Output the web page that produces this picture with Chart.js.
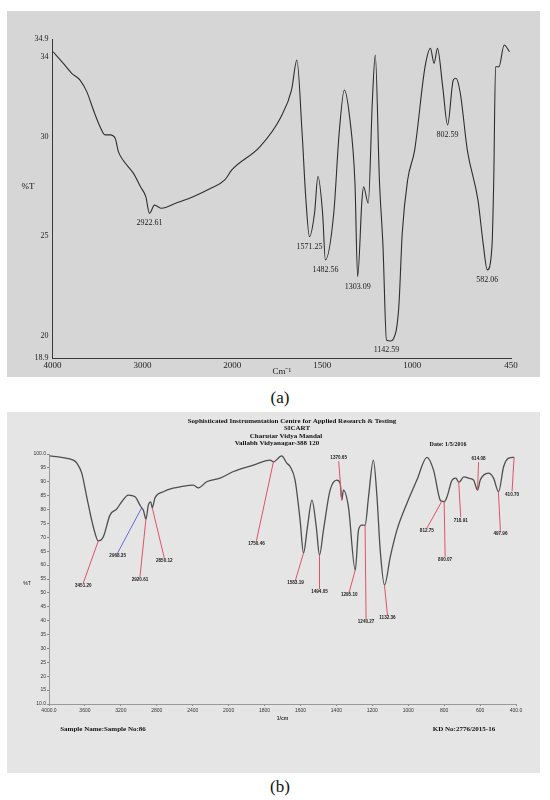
<!DOCTYPE html>
<html><head><meta charset="utf-8">
<script src="https://cdn.jsdelivr.net/npm/chart.js@4.4.1/dist/chart.umd.min.js"></script>
<style>
html,body{margin:0;padding:0;background:#fff;}
#page{position:relative;width:550px;height:800px;overflow:hidden;background:#fff;}
.box{position:absolute;}
#boxA{left:7px;top:11px;width:533px;height:366px;background:#d6d6d6;}
#boxB{left:7px;top:412px;width:533px;height:361px;background:#e5e5e5;}
.t{position:absolute;white-space:nowrap;transform:translate(-50%,-50%);color:#111;line-height:1;}
.serif{font-family:"Liberation Serif","DejaVu Serif",serif;}
.hb{font-family:"Liberation Serif",serif;font-weight:bold;font-size:7px;}
canvas{display:block;}
</style>
</head><body>
<div id="page">
  <div id="boxA" class="box"><canvas id="cA" width="533" height="366"></canvas></div>
  <div class="t serif" style="left:28px;top:186px;font-size:9px;">%T</div>
  <div class="t serif" style="left:280px;top:397px;font-size:17px;">(a)</div>

  <div id="boxB" class="box"><canvas id="cB" width="533" height="361"></canvas></div>
  <div class="t hb" style="left:292px;top:421px;">Sophisticated Instrumentation Centre for Applied Research &amp; Testing</div>
  <div class="t hb" style="left:297px;top:428px;">SICART</div>
  <div class="t hb" style="left:286px;top:435.5px;">Charutar Vidya Mandal</div>
  <div class="t hb" style="left:277px;top:443px;">Vallabh Vidyanagar-388 120</div>
  <div class="t hb" style="left:448px;top:444px;font-size:6px;">Date: 1/5/2016</div>
  <div class="t" style="left:27px;top:583px;font-family:'Liberation Sans',sans-serif;font-size:5px;">%T</div>
  <div class="t hb" style="left:103px;top:729px;">Sample Name:Sample No:86</div>
  <div class="t hb" style="left:464px;top:729px;">KD No:2776/2015-16</div>
  <div class="t serif" style="left:280px;top:786px;font-size:17px;">(b)</div>
</div>
<script>
// ---------- Panel (a) data ----------
const wnA = [3995,3881,3787,3695,3620,3546,3472,3416,3360,3304,3268,3217,3100,3022,2963,2922.61,2866,2788,2631,2436,2240,2084,2006,1846,1729,1671,1641,1612,1592,1571.25,1543,1524,1498,1482.56,1436,1406,1377,1348,1318,1303.09,1279,1270,1244,1221,1205,1182,1162,1142.59,1120,1104,1074,1055,1025,986,928,898,878,859,830,802.59,771,756,732,693,634,605,582.06,556,546,536,517,488,458];
const tA  = [34.26,33.68,33.18,32.84,32.26,31.34,30.5,30.09,30.09,29.92,29.25,28.83,28.16,27.49,26.99,26.16,26.57,26.41,26.66,26.99,27.41,27.83,28.33,29.5,31.0,32.34,33.85,30.17,26.99,24.99,26.16,28.0,26.16,23.82,26.16,30.17,32.34,31.0,27.66,22.98,26.83,27.49,26.66,31.84,34.1,27.83,24.48,19.8,19.75,19.85,21.47,25.16,27.83,29.33,33.51,34.43,33.68,34.43,32.51,30.59,32.84,32.93,32.18,29.33,26.83,24.65,23.32,24.48,27.83,33.51,33.51,34.6,34.26];
const peakWnA = [2922.61,1571.25,1482.56,1303.09,1142.59,802.59,582.06];
const peakTA  = [26.16,24.99,23.82,22.98,19.8,30.59,23.32];
const xTicksA = [4000,3000,2000,1500,1000,450];
const yTicksA = [18.9,20,25,30,34,34.9];

// ---------- Panel (b) data ----------
const wnB = [3989,3860,3729,3692,3636,3580,3507,3451,3395,3321,3246,3190,3117,3042,2987,2968,2950,2920,2894,2867,2850,2820,2727,2616,2541,2393,2337,2244,2095,1973,1862,1769,1750,1705,1676,1657,1630,1602,1583,1561,1536,1512,1494,1472,1435,1397,1379,1370,1361,1333,1295,1277,1258,1240,1221,1194,1174,1156,1132,1100,1063,1007,952,896,859,822,812,800,784,756,735,718,690,660,636,614,599,553,525,497,469,441,410];
const tB  = [99.3,98.8,97.8,96.8,93.2,84.6,73.8,68.7,70.2,78.0,80.2,82.8,85.2,84.6,81.6,80.6,79.8,76.6,81.6,82.8,80.6,84.2,86.4,87.7,88.2,88.8,87.8,90.0,91.3,93.7,96.0,97.8,97.2,99.3,96.7,95.4,90.6,76.2,64.3,73.8,83.4,73.8,63.6,72.6,87.0,90.6,89.5,83.4,87.0,81.0,58.2,72.6,74.4,74.4,84.6,97.8,84.6,65.4,52.8,63.0,72.6,82.3,90.6,98.8,94.2,83.4,83.0,82.8,84.6,90.6,91.3,89.8,91.8,91.2,90.6,87.0,90.6,93.1,91.3,86.4,95.4,98.5,98.8];
const peakWnB = [3451.20,2968.35,2920.61,2850.12,1750.46,1583.19,1494.05,1370.65,1295.10,1240.27,1132.36,812.75,800.07,718.91,614.08,497.96,410.70];
const peakTB  = [68.7,80.6,76.6,80.6,97.2,64.3,63.6,83.4,58.2,74.4,52.8,83.0,82.8,89.8,87.0,86.4,98.8];
const xTicksB = [4000,3600,3200,2800,2400,2000,1800,1600,1400,1200,1000,800,600,400];
const yTicksB = [10,15,20,25,30,35,40,45,50,55,60,65,70,75,80,85,90,95,100];

// ---------- layout/style for labels (not data) ----------
const labelOffsetsB = [[-15,45],[-24,48],[-6,61],[12,53],[-17,82],[-8,30],[0,37],[-3,-42],[-6,25],[1,97],[3,33],[-15,30],[1,58],[2,38],[1,-31],[2,42],[-2,37]];
const labelColorsB = labelOffsetsB.map((_,i)=> i===1 ? '#6a6ad8' : '#e0506a');

// ---------- wavenumber scale with 2x expansion below 2000 ----------
class BreakScale extends Chart.LinearScale {
  static id = 'break';
  _tf(v){ const b = 2000, f = 2; return v >= b ? v : b - (b - v) * f; }
  _itf(t){ const b = 2000, f = 2; return t >= b ? t : b - (b - t) / f; }
  getPixelForValue(value){
    if (value === null || value === undefined || isNaN(value)) return NaN;
    const t0 = this._tf(this.min), t1 = this._tf(this.max);
    return this.getPixelForDecimal((this._tf(value) - t0) / (t1 - t0));
  }
  getValueForPixel(pixel){
    const t0 = this._tf(this.min), t1 = this._tf(this.max);
    return this._itf(t0 + this.getDecimalForPixel(pixel) * (t1 - t0));
  }
}
Chart.register(BreakScale);

const peakLabelsA = {
  id:'peakLabelsA',
  afterDatasetsDraw(chart){
    const {ctx} = chart, x = chart.scales.x, y = chart.scales.y;
    ctx.save();
    ctx.font = '8px "Liberation Serif"';
    ctx.fillStyle = '#1a1a1a';
    ctx.textAlign = 'center'; ctx.textBaseline = 'middle';
    peakWnA.forEach((w,i)=>{
      const px = x.getPixelForValue(w), py = y.getPixelForValue(peakTA[i]);
      ctx.fillText(w.toFixed(2), px, py + 10);
    });
    ctx.restore();
  }
};

const peakLabelsB = {
  id:'peakLabelsB',
  afterDatasetsDraw(chart){
    const {ctx} = chart, x = chart.scales.x, y = chart.scales.y;
    ctx.save();
    ctx.font = 'bold 4.6px "Liberation Sans"';
    ctx.textAlign = 'center'; ctx.textBaseline = 'middle';
    peakWnB.forEach((w,i)=>{
      const px = x.getPixelForValue(w), py = y.getPixelForValue(peakTB[i]);
      const [dx,dy] = labelOffsetsB[i];
      const lx = px + dx, ly = py + dy;
      ctx.strokeStyle = labelColorsB[i]; ctx.lineWidth = 1;
      ctx.beginPath(); ctx.moveTo(px, py); ctx.lineTo(lx, ly + (dy > 0 ? -3 : 3)); ctx.stroke();
      ctx.fillStyle = '#222';
      ctx.fillText(w.toFixed(2), lx, ly);
    });
    ctx.restore();
  }
};

const serif9 = {family:'"Liberation Serif"', size:9};

new Chart(document.getElementById('cA'), {
  type:'line',
  data:{datasets:[{data: wnA.map((w,i)=>({x:w, y:tA[i]})), borderColor:'#2e2e2e', borderWidth:1.1, pointRadius:0, cubicInterpolationMode:'monotone', fill:false}]},
  options:{
    responsive:false, animation:false, devicePixelRatio:1,
    layout:{padding:{top:28, right:29, left:0, bottom:0}},
    plugins:{legend:{display:false}, tooltip:{enabled:false}},
    scales:{
      x:{type:'break', min:450, max:4000, reverse:true,
        grid:{display:false, drawTicks:false}, border:{display:true, color:'#3a3a3a', width:1},
        afterBuildTicks: s => { s.ticks = xTicksA.map(v=>({value:v})); },
        afterFit: s => { s.height = 19; },
        ticks:{autoSkip:false, maxRotation:0, padding:2, font:serif9, color:'#222', callback: v => String(v)},
        title:{display:true, text:'Cm\u207B\u00B9', font:serif9, color:'#222', padding:{top:0,bottom:0}}
      },
      y:{type:'linear', min:18.9, max:34.9,
        grid:{display:false, drawTicks:false}, border:{display:true, color:'#3a3a3a', width:1},
        afterBuildTicks: s => { s.ticks = yTicksA.map(v=>({value:v})); },
        afterFit: s => { s.width = 45.6; },
        ticks:{autoSkip:false, padding:4, font:{family:'"Liberation Serif"', size:8}, color:'#222', callback: v => String(v)}
      }
    }
  },
  plugins:[peakLabelsA]
});

const sans5 = {family:'"Liberation Sans"', size:5};
new Chart(document.getElementById('cB'), {
  type:'line',
  data:{datasets:[{data: wnB.map((w,i)=>({x:w, y:tB[i]})), borderColor:'#4e4e4e', borderWidth:1.3, pointRadius:0, cubicInterpolationMode:'monotone', fill:false}]},
  options:{
    responsive:false, animation:false, devicePixelRatio:1,
    layout:{padding:{top:42, right:24, left:0, bottom:49}},
    plugins:{legend:{display:false}, tooltip:{enabled:false}},
    scales:{
      x:{type:'break', min:400, max:4000, reverse:true,
        grid:{display:true, drawOnChartArea:false, drawTicks:true, tickLength:2, color:'#888'}, border:{display:true, color:'#999', width:1},
        afterBuildTicks: s => { s.ticks = xTicksB.map(v=>({value:v})); },
        afterFit: s => { s.height = 20; },
        ticks:{autoSkip:false, maxRotation:0, padding:2, font:sans5, color:'#333', callback: v => (v===4000||v===400) ? v.toFixed(1) : String(v)},
        title:{display:true, text:'1/cm', font:{family:'"Liberation Sans"', size:5, weight:'bold'}, color:'#333', padding:{top:0,bottom:2}}
      },
      y:{type:'linear', min:10, max:100,
        grid:{display:true, drawOnChartArea:false, drawTicks:true, tickLength:2, color:'#888'}, border:{display:true, color:'#999', width:1},
        afterBuildTicks: s => { s.ticks = yTicksB.map(v=>({value:v})); },
        afterFit: s => { s.width = 42; },
        ticks:{autoSkip:false, padding:1, font:sans5, color:'#333', callback: v => (v===100||v===10) ? v.toFixed(1) : String(v)}
      }
    }
  },
  plugins:[peakLabelsB]
});
</script>
</body></html>
